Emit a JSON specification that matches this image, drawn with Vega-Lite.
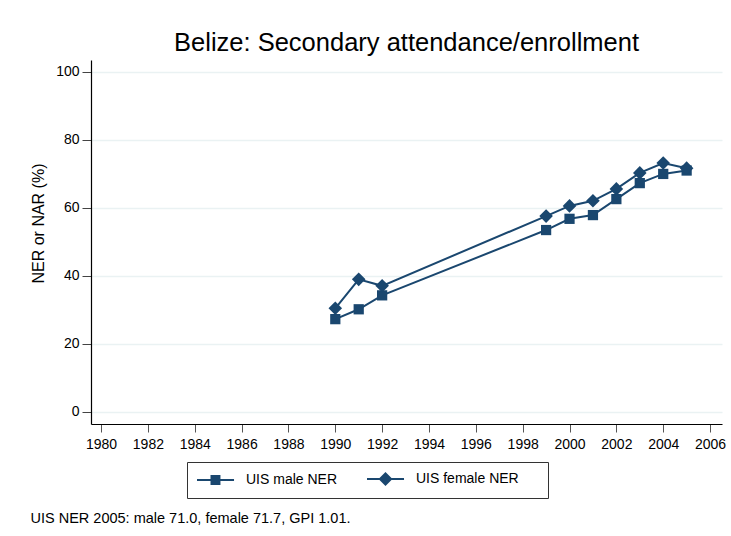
{
  "$schema": "https://vega.github.io/schema/vega-lite/v6.json",
  "width": 631,
  "height": 364,
  "autosize": {"type": "none"},
  "padding": {"left": 91, "top": 60, "right": 9, "bottom": 112},
  "background": "white",
  "config": {
    "font": "Liberation Sans",
    "view": {"stroke": null},
    "axis": {"labelFont": "Liberation Sans", "titleFont": "Liberation Sans", "labelColor": "black", "titleColor": "black"}
  },
  "title": {
    "text": "Belize: Secondary attendance/enrollment",
    "font": "Liberation Sans",
    "fontSize": 25.5,
    "fontWeight": "normal",
    "color": "black",
    "anchor": "middle",
    "frame": "group",
    "baseline": "alphabetic",
    "offset": -16
  },
  "data": {
    "values": [
      {"year": 1990, "series": "UIS male NER", "v": 27.3},
      {"year": 1991, "series": "UIS male NER", "v": 30.2},
      {"year": 1992, "series": "UIS male NER", "v": 34.3},
      {"year": 1999, "series": "UIS male NER", "v": 53.5},
      {"year": 2000, "series": "UIS male NER", "v": 56.8},
      {"year": 2001, "series": "UIS male NER", "v": 57.9},
      {"year": 2002, "series": "UIS male NER", "v": 62.6},
      {"year": 2003, "series": "UIS male NER", "v": 67.3},
      {"year": 2004, "series": "UIS male NER", "v": 70.0},
      {"year": 2005, "series": "UIS male NER", "v": 71.0},
      {"year": 1990, "series": "UIS female NER", "v": 30.5},
      {"year": 1991, "series": "UIS female NER", "v": 39.0},
      {"year": 1992, "series": "UIS female NER", "v": 37.1},
      {"year": 1999, "series": "UIS female NER", "v": 57.6},
      {"year": 2000, "series": "UIS female NER", "v": 60.6},
      {"year": 2001, "series": "UIS female NER", "v": 62.1},
      {"year": 2002, "series": "UIS female NER", "v": 65.6},
      {"year": 2003, "series": "UIS female NER", "v": 70.3},
      {"year": 2004, "series": "UIS female NER", "v": 73.2},
      {"year": 2005, "series": "UIS female NER", "v": 71.7}
    ]
  },
  "encoding": {
    "x": {
      "field": "year",
      "type": "quantitative",
      "scale": {"domain": [1979.57, 2006.51], "nice": false, "zero": false},
      "axis": {
        "values": [1980, 1982, 1984, 1986, 1988, 1990, 1992, 1994, 1996, 1998, 2000, 2002, 2004, 2006],
        "format": "d",
        "grid": false,
        "domainColor": "black",
        "domainWidth": 1.2,
        "tickColor": "#555555",
        "tickSize": 8,
        "tickWidth": 1,
        "labelFontSize": 14,
        "labelPadding": 5,
        "labelFlush": false,
        "labelOverlap": false,
        "title": "UIS NER 2005: male 71.0, female 71.7, GPI 1.01.",
        "titleFontSize": 14.5,
        "titleFontWeight": "normal",
        "titleAnchor": "start",
        "titleAlign": "left",
        "titleBaseline": "alphabetic",
        "titleX": -61,
        "titleY": 98
      }
    },
    "y": {
      "field": "v",
      "type": "quantitative",
      "scale": {"domain": [-3.53, 103.5], "nice": false, "zero": false},
      "axis": {
        "values": [0, 20, 40, 60, 80, 100],
        "grid": true,
        "gridColor": "#eaf2f3",
        "gridWidth": 1.5,
        "domainColor": "black",
        "domainWidth": 1.2,
        "tickColor": "#444444",
        "tickSize": 9,
        "tickWidth": 1,
        "labelFontSize": 14,
        "labelPadding": 3,
        "labelFlush": false,
        "title": "NER or NAR (%)",
        "titleFontSize": 16,
        "titleFontWeight": "normal",
        "titleAngle": 270,
        "titleAnchor": "middle",
        "titleAlign": "center",
        "titleBaseline": "alphabetic",
        "titleX": -48,
        "titleY": 163
      }
    }
  },
  "resolve": {"scale": {"shape": "independent", "size": "independent"}, "legend": {"shape": "independent"}},
  "layer": [
    {
      "mark": {"type": "line", "color": "#1a476f", "strokeWidth": 2},
      "encoding": {"detail": {"field": "series"}}
    },
    {
      "mark": {"type": "point", "filled": true, "opacity": 1, "color": "#1a476f"},
      "encoding": {
        "shape": {
          "field": "series",
          "type": "nominal",
          "scale": {"domain": ["UIS male NER", "UIS female NER"], "range": ["square", "diamond"]},
          "legend": null
        },
        "size": {
          "field": "series",
          "type": "nominal",
          "scale": {"domain": ["UIS male NER", "UIS female NER"], "range": [105, 185]},
          "legend": null
        }
      }
    },
    {
      "transform": [{"filter": "datum.year < 0"}],
      "mark": {"type": "point", "filled": true, "opacity": 1, "color": "#1a476f"},
      "encoding": {
        "shape": {
          "field": "series",
          "type": "nominal",
          "scale": {
            "domain": ["UIS male NER", "UIS female NER"],
            "range": ["M-1,-0.14H4.29V0.14H-1ZM0.93,-0.71H2.35V0.71H0.93Z", "M-1,-0.14H4.29V0.14H-1ZM1.64,-1L2.64,0L1.64,1L0.64,0Z"]
          },
          "legend": {
            "title": "\u00a0",
            "titleOrient": "right",
            "titlePadding": 20,
            "titleFontSize": 14,
            "orient": "none",
            "legendX": 96,
            "legendY": 402,
            "direction": "horizontal",
            "padding": 9,
            "strokeColor": "#333333",
            "fillColor": "white",
            "symbolSize": 196,
            "symbolFillColor": "#1a476f",
            "symbolOpacity": 1,
            "labelFontSize": 14,
            "labelFont": "Liberation Sans",
            "labelColor": "black",
            "labelOffset": 34,
            "columnPadding": 26,
            "encode": {
              "symbols": {
                "update": {
                  "fill": {"value": "#1a476f"},
                  "opacity": {"value": 1}
                }
              }
            }
          }
        }
      }
    }
  ]
}
